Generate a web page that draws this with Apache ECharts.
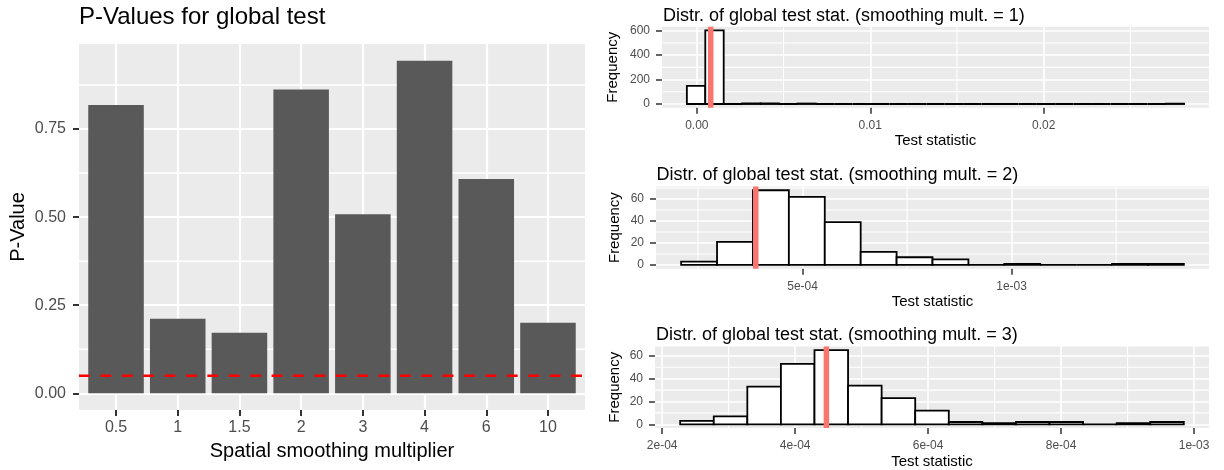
<!DOCTYPE html>
<html><head><meta charset="utf-8">
<script src="https://cdn.jsdelivr.net/npm/echarts@6/dist/echarts.min.js"></script>
<style>html,body{margin:0;padding:0;background:#fff}#c{width:1224px;height:470px}</style>
</head><body><div id="c"></div>
<script>
// ---- Left panel: p-values ----
const categories = ['0.5', '1', '1.5', '2', '3', '4', '6', '10'];
const pValues = [0.818, 0.212, 0.172, 0.862, 0.508, 0.944, 0.608, 0.200];
const alphaLevel = 0.05;
const pTicks = [0, 0.25, 0.5, 0.75];
const pTickLabels = ['0.00', '0.25', '0.50', '0.75'];
const pMinor = [0.125, 0.375, 0.625, 0.875];

// ---- Histogram 1 (smoothing mult. = 1) ----
const hist1Start = -0.000575;
const hist1Width = 0.001062;
const hist1Counts = [148, 603, 0, 5, 5, 0, 4, 0, 0, 0, 0, 0, 0, 0, 0, 0, 0, 0, 0, 0, 0, 0, 0, 0, 0, 0, 3];
const hist1Observed = 0.0008;
const hist1XTicks = [0, 0.01, 0.02];
const hist1XLabels = ['0.00', '0.01', '0.02'];
const hist1XMinor = [0.005, 0.015, 0.025];
const hist1YTicks = [0, 200, 400, 600];
const hist1YMinor = [100, 300, 500];

// ---- Histogram 2 (smoothing mult. = 2) ----
const hist2Start = 0.0002095;
const hist2Width = 0.0000859;
const hist2Counts = [3, 21, 68, 62, 39, 12, 7, 5, 0, 1, 0, 0, 1, 1];
const hist2Observed = 0.000388;
const hist2XTicks = [0.0005, 0.001];
const hist2XLabels = ['5e-04', '1e-03'];
const hist2XMinor = [0.00025, 0.00075, 0.00125];
const hist2YTicks = [0, 20, 40, 60];
const hist2YMinor = [10, 30, 50, 70];

// ---- Histogram 3 (smoothing mult. = 3) ----
const hist3Start = 0.0002271;
const hist3Width = 0.0000505;
const hist3Counts = [3, 7, 33, 53, 65, 34, 23, 12, 2, 1, 2, 2, 0, 1, 2];
const hist3Observed = 0.000447;
const hist3XTicks = [0.0002, 0.0004, 0.0006, 0.0008, 0.001];
const hist3XLabels = ['2e-04', '4e-04', '6e-04', '8e-04', '1e-03'];
const hist3XMinor = [0.0003, 0.0005, 0.0007, 0.0009];
const hist3YTicks = [0, 20, 40, 60];
const hist3YMinor = [10, 30, 50];

const FONT = 'Liberation Sans';
const PANEL = '#EBEBEB';

function labelFor(ticks, labels) {
  return v => {
    let best = 0, bd = Infinity;
    ticks.forEach((t, i) => { const d = Math.abs(t - v); if (d < bd) { bd = d; best = i; } });
    return labels[best];
  };
}

function mainAxis(kind, gridIndex, min, max, ticks, formatter, s) {
  return {
    type: 'value', gridIndex, min, max,
    position: kind === 'x' ? 'bottom' : 'left',
    axisLine: { show: false, onZero: false },
    axisTick: { show: true, customValues: ticks, length: s.tickLen, lineStyle: { color: '#333333', width: s.tickW } },
    axisLabel: { show: true, customValues: ticks, formatter, color: '#4D4D4D', fontSize: s.labelSize, fontFamily: FONT, margin: s.labelMargin },
    splitLine: { show: true, lineStyle: { color: '#FFFFFF', width: s.majorW } },
    name: s.name, nameLocation: 'middle', nameGap: s.nameGap,
    nameTextStyle: { fontSize: s.nameSize, color: '#000', fontFamily: FONT }
  };
}

// minor grid lines drawn through the axis scales (under the data marks)
function minorGridSeries(xi, yi, xMinor, yMinor, width) {
  const items = [];
  (xMinor || []).forEach(v => items.push({ dir: 'v', v }));
  (yMinor || []).forEach(v => items.push({ dir: 'h', v }));
  return {
    type: 'custom', xAxisIndex: xi, yAxisIndex: yi, z: 1, silent: true, clip: false,
    data: items.map((it, i) => [i, it.v]),
    renderItem(params, api) {
      const cs = params.coordSys;
      const it = items[params.dataIndex];
      const style = { stroke: '#FFFFFF', lineWidth: width, opacity: 1 };
      if (it.dir === 'v') {
        const px = api.coord([it.v, 0])[0];
        return { type: 'line', shape: { x1: px, y1: cs.y, x2: px, y2: cs.y + cs.height }, style };
      }
      const py = api.coord([0, it.v])[1];
      return { type: 'line', shape: { x1: cs.x, y1: py, x2: cs.x + cs.width, y2: py }, style };
    }
  };
}

function expandRange(lo, hi) {
  const r = hi - lo;
  return [lo - 0.05 * r, hi + 0.05 * r];
}

const grids = [
  { left: 79, top: 44, width: 506, height: 366 },
  { left: 662, top: 26.7, width: 547, height: 81 },
  { left: 656, top: 186.5, width: 553, height: 82.2 },
  { left: 655, top: 346.5, width: 554, height: 82.2 }
].map(g => Object.assign({ show: true, backgroundColor: PANEL, borderWidth: 0, containLabel: false }, g));

const xAxes = [], yAxes = [], series = [];

// Left panel axes
const pMax = Math.max(...pValues);
const leftStyleX = { tickLen: 6, tickW: 2, labelSize: 16, labelMargin: 10, majorW: 2.2,
  name: 'Spatial smoothing multiplier', nameGap: 31.5, nameSize: 20 };
const leftStyleY = { tickLen: 6, tickW: 2, labelSize: 16, labelMargin: 13, majorW: 2.2,
  name: 'P-Value', nameGap: 51, nameSize: 20 };
xAxes.push(mainAxis('x', 0, 0.4, categories.length + 0.6, categories.map((c, i) => i + 1),
  v => categories[Math.round(v) - 1], leftStyleX));
yAxes.push(mainAxis('y', 0, -0.05 * pMax, 1.05 * pMax, pTicks, labelFor(pTicks, pTickLabels), leftStyleY));

series.push(minorGridSeries(0, 0, null, pMinor, 1.5));
series.push({
  type: 'custom', xAxisIndex: 0, yAxisIndex: 0, z: 2,
  data: pValues.map((v, i) => [i + 1, v]),
  encode: { x: 0, y: 1 },
  renderItem(params, api) {
    const top = api.coord([api.value(0), api.value(1)]);
    const base = api.coord([api.value(0), 0]);
    const w = api.size([0.9, 0])[0];
    return { type: 'rect', shape: { x: top[0] - w / 2, y: top[1], width: w, height: base[1] - top[1] },
      style: { fill: '#595959' } };
  }
});
series.push({
  type: 'custom', xAxisIndex: 0, yAxisIndex: 0, z: 3, silent: true, clip: false,
  data: [[alphaLevel]],
  renderItem(params, api) {
    const cs = params.coordSys;
    const py = api.coord([1, api.value(0)])[1];
    return { type: 'line', shape: { x1: cs.x, y1: py, x2: cs.x + cs.width, y2: py },
      style: { stroke: '#FF0000', lineWidth: 2.6, lineDash: [10.7, 10.7] } };
  }
});

// Histograms
const hists = [
  { start: hist1Start, width: hist1Width, counts: hist1Counts, obs: hist1Observed, xt: hist1XTicks, xl: hist1XLabels, xm: hist1XMinor, yt: hist1YTicks, ym: hist1YMinor, yGap: 41.5 },
  { start: hist2Start, width: hist2Width, counts: hist2Counts, obs: hist2Observed, xt: hist2XTicks, xl: hist2XLabels, xm: hist2XMinor, yt: hist2YTicks, ym: hist2YMinor, yGap: 33.5 },
  { start: hist3Start, width: hist3Width, counts: hist3Counts, obs: hist3Observed, xt: hist3XTicks, xl: hist3XLabels, xm: hist3XMinor, yt: hist3YTicks, ym: hist3YMinor, yGap: 32.5 }
];

hists.forEach((h, k) => {
  const g = k + 1;
  const xr = expandRange(h.start, h.start + h.counts.length * h.width);
  const cMax = Math.max(...h.counts);
  const sx = { tickLen: 6, tickW: 1.5, labelSize: 12, labelMargin: 12, majorW: 1.6,
    name: 'Test statistic', nameGap: 26, nameSize: 15 };
  const sy = { tickLen: 6, tickW: 1.5, labelSize: 12, labelMargin: 12, majorW: 1.6,
    name: 'Frequency', nameGap: h.yGap, nameSize: 15 };
  const xi = xAxes.length;
  xAxes.push(mainAxis('x', g, xr[0], xr[1], h.xt, labelFor(h.xt, h.xl), sx));
  const yi = yAxes.length;
  yAxes.push(mainAxis('y', g, -0.05 * cMax, 1.05 * cMax, h.yt, v => String(Math.round(v)), sy));
  series.push(minorGridSeries(xi, yi, h.xm, h.ym, 1.1));
  series.push({
    type: 'custom', xAxisIndex: xi, yAxisIndex: yi, z: 2,
    data: h.counts.map((c, i) => [h.start + i * h.width, h.start + (i + 1) * h.width, c]),
    encode: { x: [0, 1], y: 2 },
    renderItem(params, api) {
      const p0 = api.coord([api.value(0), api.value(2)]);
      const p1 = api.coord([api.value(1), 0]);
      return { type: 'rect', shape: { x: p0[0], y: p0[1], width: p1[0] - p0[0], height: p1[1] - p0[1] },
        style: { fill: '#FFFFFF', stroke: '#000000', lineWidth: 1.8 } };
    }
  });
  series.push({
    type: 'custom', xAxisIndex: xi, yAxisIndex: yi, z: 3, silent: true, clip: false,
    data: [[h.obs]],
    renderItem(params, api) {
      const cs = params.coordSys;
      const px = api.coord([api.value(0), 0])[0];
      return { type: 'line', shape: { x1: px, y1: cs.y, x2: px, y2: cs.y + cs.height },
        style: { stroke: '#F8766D', lineWidth: 5.5 } };
    }
  });
});

const titleStyle = (size) => ({ fontSize: size, color: '#000', fontWeight: 'normal', fontFamily: FONT });
const option = {
  animation: false,
  textStyle: { fontFamily: FONT },
  title: [
    { text: 'P-Values for global test', left: 79, top: 5.3, padding: 0, textStyle: titleStyle(24) },
    { text: 'Distr. of global test stat. (smoothing mult. = 1)', left: 663, top: 6.8, padding: 0, textStyle: titleStyle(18) },
    { text: 'Distr. of global test stat. (smoothing mult. = 2)', left: 656.5, top: 165.9, padding: 0, textStyle: titleStyle(18) },
    { text: 'Distr. of global test stat. (smoothing mult. = 3)', left: 656, top: 326.2, padding: 0, textStyle: titleStyle(18) }
  ],
  grid: grids,
  xAxis: xAxes,
  yAxis: yAxes,
  series
};
const chart = echarts.init(document.getElementById('c'), null, { renderer: 'canvas' });
chart.setOption(option);
</script>
</body></html>
